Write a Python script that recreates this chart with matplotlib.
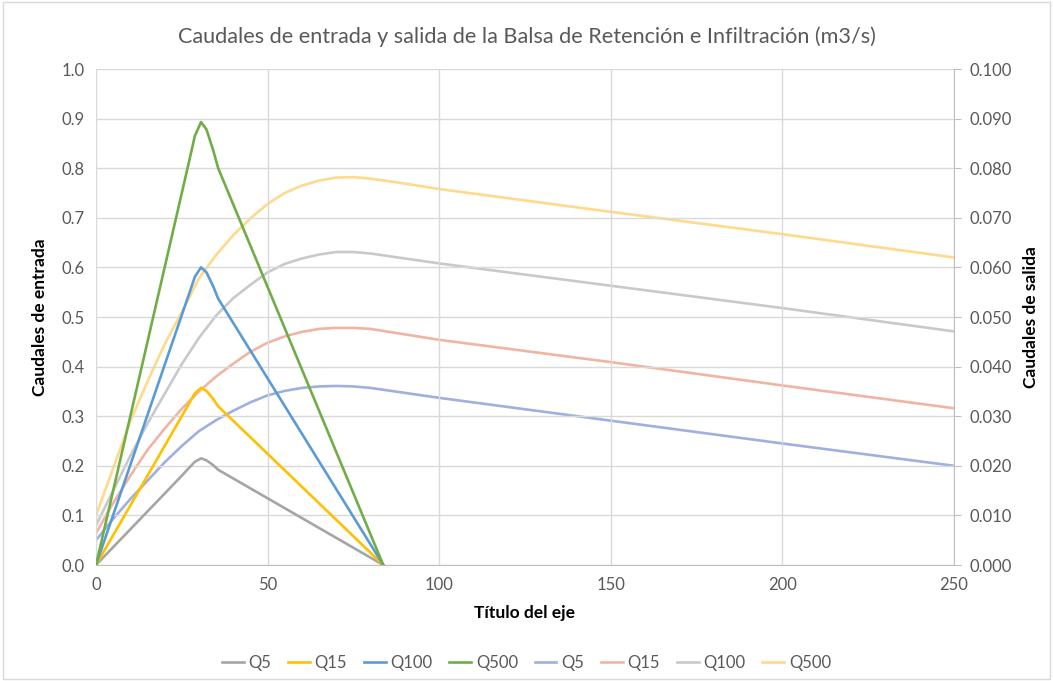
import numpy as np
import matplotlib.pyplot as plt
from matplotlib.patches import Rectangle

plt.rcParams['font.family'] = ['Lato', 'DejaVu Sans']

# caudales de entrada (eje principal), hidrograma triangular
t_in = [0, 25, 27, 28.8, 30.6, 32.2, 34.2, 35.6, 83.7]
q5_in = [0, 0.180, 0.195, 0.208, 0.215, 0.211, 0.201, 0.192, 0]
q15_in = [0, 0.300, 0.324, 0.346, 0.357, 0.351, 0.334, 0.320, 0]
q100_in = [0, 0.504, 0.544, 0.581, 0.600, 0.590, 0.561, 0.537, 0]
q500_in = [0, 0.750, 0.810, 0.865, 0.893, 0.878, 0.835, 0.800, 0]

# caudales de salida (eje secundario)
t_out = [0, 5, 10, 15, 20, 25, 30, 35, 40, 45, 50, 55, 60, 65, 70, 75, 80, 90, 100, 150, 200, 250]
q5_out = [0.0050, 0.0093, 0.0133, 0.0170, 0.0207, 0.0240, 0.0270, 0.0292, 0.0311, 0.0328, 0.0342,
          0.0351, 0.0357, 0.0360, 0.0361, 0.0360, 0.0357, 0.0347, 0.0337, 0.0291, 0.0245, 0.0200]
q15_out = [0.0064, 0.0125, 0.0180, 0.0232, 0.0275, 0.0315, 0.0350, 0.0380, 0.0406, 0.0430, 0.0448,
           0.0461, 0.0470, 0.0476, 0.0478, 0.0478, 0.0476, 0.0465, 0.0454, 0.0409, 0.0362, 0.0316]
q100_out = [0.0080, 0.0150, 0.0220, 0.0285, 0.0345, 0.0405, 0.0458, 0.0503, 0.0538, 0.0565, 0.0590,
            0.0607, 0.0618, 0.0626, 0.0631, 0.0631, 0.0628, 0.0618, 0.0608, 0.0563, 0.0518, 0.0471]
q500_out = [0.0100, 0.0195, 0.0290, 0.0370, 0.0445, 0.0510, 0.0578, 0.0625, 0.0665, 0.0699, 0.0728,
            0.0750, 0.0765, 0.0775, 0.0781, 0.0782, 0.0779, 0.0769, 0.0758, 0.0712, 0.0667, 0.0620]

c_in = ['#a5a5a5', '#ffc000', '#5b9bd5', '#70ad47']
c_out = ['#9fb0de', '#f2b4a2', '#c9c9c9', '#ffd98c']
labels = ['Q5', 'Q15', 'Q100', 'Q500']
grey_txt = '#595959'

fig = plt.figure(figsize=(10.53, 6.81), dpi=100)
ax = fig.add_axes([96/1053, 1-565/681, (954-96)/1053, (565-69)/681])
ax2 = ax.twinx()

handles = []
for y, c, l in zip([q5_in, q15_in, q100_in, q500_in], c_in, labels):
    h, = ax.plot(t_in, y, color=c, lw=1.9, label=l, solid_joinstyle='round', zorder=3)
    handles.append(h)
for y, c, l in zip([q5_out, q15_out, q100_out, q500_out], c_out, labels):
    h, = ax2.plot(t_out, y, color=c, lw=1.9, label=l, solid_joinstyle='round')
    handles.append(h)

ax.set_zorder(ax2.get_zorder() + 1)
ax.patch.set_visible(False)

ax.set_xlim(0, 250)
ax.set_ylim(0, 1.0)
ax2.set_ylim(0, 0.1)
ax.set_xticks(np.arange(0, 251, 50))
ax.set_yticks(np.arange(0, 1.01, 0.1))
ax2.set_yticks(np.arange(0, 0.101, 0.01))
ax.set_yticklabels([f'{v:.1f}' for v in np.arange(0, 1.01, 0.1)])
ax2.set_yticklabels([f'{v:.3f}' for v in np.arange(0, 0.101, 0.01)])

ax.grid(True, color='#d9d9d9', lw=1)
ax.set_axisbelow(True)
for a in (ax, ax2):
    for s in a.spines.values():
        s.set_visible(False)
ax.spines['bottom'].set_visible(True)
ax.spines['bottom'].set_color('#bfbfbf')
ax2.spines['right'].set_visible(True)
ax2.spines['right'].set_color('#bfbfbf')

ax.tick_params(axis='both', length=0, labelsize=12, labelcolor=grey_txt, pad=8)
ax.tick_params(axis='x', pad=9)
ax2.tick_params(axis='y', length=5, color='#bfbfbf', labelsize=12, labelcolor=grey_txt, pad=6)

ax.set_xlabel('Título del eje', fontsize=12.5, fontweight='bold', labelpad=8)
ax.set_ylabel('Caudales de entrada', fontsize=12.5, fontweight='bold', labelpad=10)
ax2.set_ylabel('Caudales de salida', fontsize=12.5, fontweight='bold', labelpad=8)

fig.suptitle('Caudales de entrada y salida de la Balsa de Retención e Infiltración (m3/s)',
             y=1-37/681, va='center', fontsize=15.6, color=grey_txt)

fig.legend(handles=handles, labels=labels * 2, loc='center', bbox_to_anchor=(0.5, 1-663/681),
           ncol=8, frameon=False, fontsize=12, handlelength=1.3, handletextpad=0.3,
           columnspacing=1.0, labelcolor=grey_txt)

fig.patches.append(Rectangle((0.003, 0.003), 0.994, 0.994, transform=fig.transFigure,
                             fill=False, edgecolor='#d9d9d9', lw=1))

fig.savefig('out.png', dpi=100)
